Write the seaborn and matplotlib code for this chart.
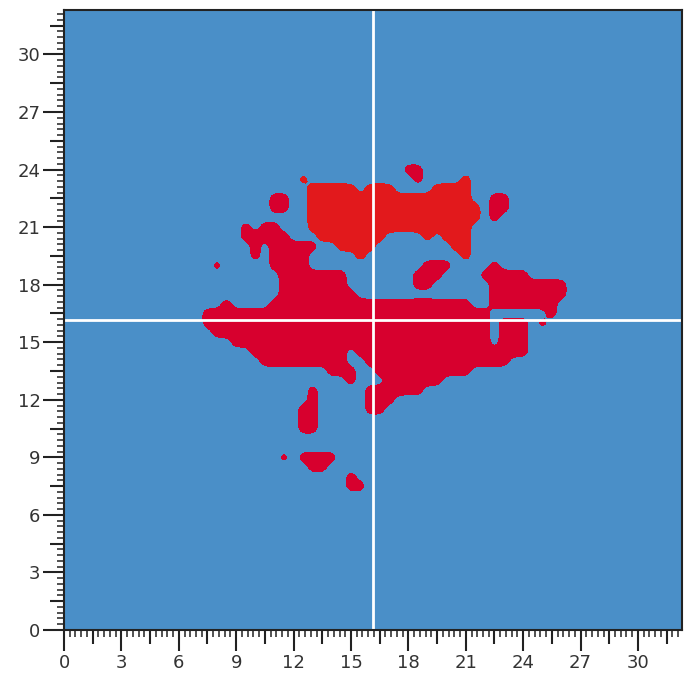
import numpy as np
import matplotlib
matplotlib.use("Agg")
import matplotlib.pyplot as plt
import seaborn as sns

sns.set_theme(style="ticks")
plt.rcParams["font.family"] = ["DejaVu Sans"]

# cells, 0.5 units apart; each row: y -> list of (x_from, x_to)
x_cells = np.arange(41) * 0.5 + 7.0     # 7.0 .. 27.0
y_cells = 24.5 - np.arange(37) * 0.5    # 24.5 .. 6.5 (top row first)

crimson_runs = {
    24.0: [(18.0, 18.5)],
    23.5: [(18.5, 18.5)],
    22.5: [(11.0, 11.5), (22.5, 23.0)],
    22.0: [(11.0, 11.5), (22.5, 23.0)],
    21.5: [(22.5, 22.5)],
    21.0: [(9.5, 9.5), (10.5, 11.0)],
    20.5: [(9.5, 11.5)],
    20.0: [(10.0, 10.0), (11.0, 13.0)],
    19.5: [(10.0, 10.0), (11.0, 12.5)],
    19.0: [(8.0, 8.0), (11.0, 12.5), (19.0, 20.0), (22.5, 22.5)],
    18.5: [(11.5, 14.5), (18.5, 19.5), (22.0, 24.0)],
    18.0: [(11.5, 14.5), (18.5, 19.0), (22.5, 26.0)],
    17.5: [(11.5, 15.0), (22.5, 26.0)],
    17.0: [(8.5, 8.5), (11.0, 21.0), (22.5, 25.5)],
    16.5: [(7.5, 22.0), (25.5, 25.5)],
    16.0: [(7.5, 22.0), (23.0, 24.0), (25.0, 25.0)],
    15.5: [(8.0, 22.0), (23.0, 24.0)],
    15.0: [(9.0, 22.0), (23.0, 24.0)],
    14.5: [(10.0, 14.5), (15.5, 24.0)],
    14.0: [(10.5, 14.5), (16.0, 23.0)],
    13.5: [(14.0, 15.0), (16.5, 21.0)],
    13.0: [(15.0, 15.0), (17.0, 19.5)],
    12.5: [(13.0, 13.0), (16.0, 18.5)],
    12.0: [(13.0, 13.0), (16.0, 17.0)],
    11.5: [(12.5, 13.0), (16.0, 16.5)],
    11.0: [(12.5, 13.0)],
    10.5: [(12.5, 13.0)],
    9.0: [(11.5, 11.5), (12.5, 14.0)],
    8.5: [(13.0, 13.5)],
    8.0: [(15.0, 15.0)],
    7.5: [(15.0, 15.5)],
}
light_runs = {
    23.5: [(12.5, 12.5), (21.0, 21.0)],
    23.0: [(13.0, 15.0), (16.0, 17.0), (19.5, 21.0)],
    22.5: [(13.0, 21.0)],
    22.0: [(13.0, 21.5)],
    21.5: [(13.0, 21.5)],
    21.0: [(13.0, 21.0)],
    20.5: [(13.5, 16.5), (19.0, 19.0), (20.0, 21.0)],
    20.0: [(14.5, 16.0), (20.5, 21.0)],
    19.5: [(15.5, 15.5), (21.0, 21.0)],
}
x_max = 32.3
centre = x_max / 2

BLUE = "#4a8fc8"
CRIMSON = "#d7002e"
LIGHT_RED = "#e2191c"


def to_mask(runs):
    m = np.zeros((len(y_cells), len(x_cells)))
    for i, y in enumerate(y_cells):
        for a, b in runs.get(float(y), []):
            m[i, (x_cells >= a - 1e-6) & (x_cells <= b + 1e-6)] = 1.0
    return m


def soften(mask, k=4, sigma=1.3):
    # bilinear upsampling, then a light blur to round off the corners
    n_r, n_c = mask.shape
    fc = np.linspace(0, n_c - 1, (n_c - 1) * k + 1)
    fr = np.linspace(0, n_r - 1, (n_r - 1) * k + 1)
    up = np.array([np.interp(fc, np.arange(n_c), row) for row in mask])
    up = np.array([np.interp(fr, np.arange(n_r), col) for col in up.T]).T
    r = int(3 * sigma) + 1
    t = np.arange(-r, r + 1)
    g = np.exp(-t ** 2 / (2 * sigma ** 2))
    g /= g.sum()
    up = np.pad(up, r)
    up = np.apply_along_axis(lambda v: np.convolve(v, g, mode="same"), 0, up)
    up = np.apply_along_axis(lambda v: np.convolve(v, g, mode="same"), 1, up)
    return up[r:-r, r:-r]


k = 4
fx = np.linspace(x_cells[0], x_cells[-1], (len(x_cells) - 1) * k + 1)
fy = np.linspace(y_cells[0], y_cells[-1], (len(y_cells) - 1) * k + 1)

fig = plt.figure(figsize=(6.92, 6.75), dpi=100)
ax = fig.add_axes([0.0925, 0.0667, 0.893, 0.918])
ax.set_facecolor(BLUE)

ax.contourf(fx, fy, soften(to_mask(crimson_runs), k), levels=[0.5, 2], colors=[CRIMSON])
ax.contourf(fx, fy, soften(to_mask(light_runs), k), levels=[0.5, 2], colors=[LIGHT_RED])

ax.axvline(centre, color="white", lw=2)
ax.axhline(centre, color="white", lw=2)

ax.set_xlim(0, x_max)
ax.set_ylim(0, x_max)

major = np.arange(0, 33, 1.5)
labels = [f"{v:.0f}" if v % 3 == 0 else "" for v in major]
minor = np.arange(0, 32.31, 0.3)
for axis in (ax.xaxis, ax.yaxis):
    axis.set_ticks(major)
    axis.set_ticklabels(labels)
    axis.set_ticks(minor, minor=True)

ax.tick_params(which="major", direction="out", length=15, width=1.5, color="#222222",
               labelsize=13, labelcolor="#333333", pad=2)
ax.tick_params(which="minor", direction="out", length=5, width=1.1, color="#222222")
for axis in (ax.xaxis, ax.yaxis):
    for tick, v in zip(axis.get_major_ticks(), major):
        if v % 3 != 0:
            tick.tick1line.set_markersize(10)

for s in ax.spines.values():
    s.set_color("#222222")
    s.set_linewidth(1.5)

fig.savefig("out.png", dpi=100)
